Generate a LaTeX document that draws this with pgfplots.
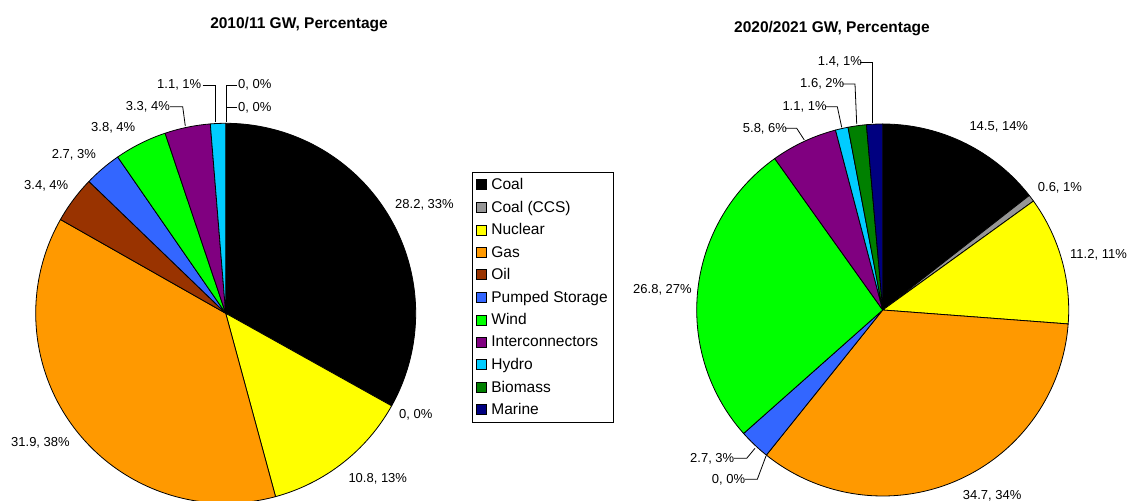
\documentclass[border=0pt]{standalone}
\usepackage{fontspec}
\setmainfont{Liberation Sans}
\usepackage{pgfplots}
\usepackage{pgfplotstable}
\pgfplotsset{compat=1.18}

\definecolor{c0}{HTML}{000000}
\definecolor{c1}{HTML}{969696}
\definecolor{c2}{HTML}{FFFF00}
\definecolor{c3}{HTML}{FF9900}
\definecolor{c4}{HTML}{993300}
\definecolor{c5}{HTML}{3366FF}
\definecolor{c6}{HTML}{00FF00}
\definecolor{c7}{HTML}{800080}
\definecolor{c8}{HTML}{00CCFF}
\definecolor{c9}{HTML}{008000}
\definecolor{c10}{HTML}{000080}

% 2010/11 GW
\pgfplotstableread{
name value
Coal 28.2
CoalCCS 0
Nuclear 10.8
Gas 31.9
Oil 3.4
PumpedStorage 2.7
Wind 3.8
Interconnectors 3.3
Hydro 1.1
Biomass 0
Marine 0
}\tabA

% 2020/2021 GW
\pgfplotstableread{
name value
Coal 14.5
CoalCCS 0.6
Nuclear 11.2
Gas 34.7
Oil 0
PumpedStorage 2.7
Wind 26.8
Interconnectors 5.8
Hydro 1.1
Biomass 1.6
Marine 1.4
}\tabB

\newcommand\labfont{\fontsize{13bp}{15bp}\selectfont}
\newcommand\legfont{\fontsize{15.5bp}{18bp}\selectfont}
\newcommand\titfont{\fontsize{15.5bp}{18bp}\selectfont\bfseries}

% #1 table, #2 cx, #3 cy, #4 r
\newcommand\drawpie[4]{%
  \def\total{0}%
  \pgfplotsforeachungrouped \i in {0,...,10}{%
    \pgfplotstablegetelem{\i}{value}\of{#1}%
    \pgfmathsetmacro\total{\total+\pgfplotsretval}%
  }%
  \def\runsum{0}%
  \pgfplotsforeachungrouped \i in {0,...,10}{%
    \pgfplotstablegetelem{\i}{value}\of{#1}%
    \let\v\pgfplotsretval
    \pgfmathsetmacro\sA{90-360*(\runsum/\total)}%
    \pgfmathsetmacro\runsum{\runsum+\v}%
    \pgfmathsetmacro\sB{90-360*(\runsum/\total)}%
    \ifdim\v pt>0pt
      \edef\tmp{\noexpand\addplot[forget plot, fill=c\i, draw=black, line width=0.8bp, line join=round,
        domain=\sB:\sA, samples=90]
        ({#2+#4*cos(x)},{#3+#4*sin(x)}) -- (axis cs:#2,#3) -- cycle;}%
      \tmp
    \fi
  }%
}

\begin{document}
\begin{tikzpicture}
\begin{axis}[
  scale only axis, width=1133bp, height=501bp,
  xmin=0, xmax=1133, ymin=0, ymax=501,
  hide axis, clip=true,
  legend style={at={(0.4163,0.6573)}, anchor=north west, draw=black, line width=0.8bp,
    fill=white, font=\legfont, inner xsep=3.5bp, inner ysep=4.3bp, row sep=5.9bp,
    cells={anchor=west}},
  legend cell align=left,
  legend image code/.code={\draw[#1, line width=0.8bp] (0bp,-5bp) rectangle (10bp,5bp);
    \path (13bp,0bp);},
]
\drawpie{\tabA}{225.7}{187.7}{190}
\drawpie{\tabB}{882.7}{191}{186}

\addlegendimage{fill=c0, draw=black}
\addlegendentry{Coal}
\addlegendimage{fill=c1, draw=black}
\addlegendentry{Coal (CCS)}
\addlegendimage{fill=c2, draw=black}
\addlegendentry{Nuclear}
\addlegendimage{fill=c3, draw=black}
\addlegendentry{Gas}
\addlegendimage{fill=c4, draw=black}
\addlegendentry{Oil}
\addlegendimage{fill=c5, draw=black}
\addlegendentry{Pumped Storage}
\addlegendimage{fill=c6, draw=black}
\addlegendentry{Wind}
\addlegendimage{fill=c7, draw=black}
\addlegendentry{Interconnectors}
\addlegendimage{fill=c8, draw=black}
\addlegendentry{Hydro}
\addlegendimage{fill=c9, draw=black}
\addlegendentry{Biomass}
\addlegendimage{fill=c10, draw=black}
\addlegendentry{Marine}

% titles
\node[font=\titfont] at (axis cs:299,476.8) {2010/11 GW, Percentage};
\node[font=\titfont] at (axis cs:832,472.8) {2020/2021 GW, Percentage};

% leader lines
\begin{scope}[line width=0.8bp]
\draw (axis cs:202.7,416) -- (axis cs:215,416) -- (axis cs:215,379);
\draw (axis cs:237,416) -- (axis cs:226,416) -- (axis cs:226,379);
\draw (axis cs:237,393.7) -- (axis cs:226,393.7);
\draw (axis cs:170,394.3) -- (axis cs:182.7,394.3) -- (axis cs:185.3,375);
\draw (axis cs:860,438.7) -- (axis cs:872.7,438.7) -- (axis cs:872.7,378.3);
\draw (axis cs:842.3,417) -- (axis cs:855,417) -- (axis cs:856.7,377);
\draw (axis cs:825.7,394.3) -- (axis cs:837.3,394.3) -- (axis cs:841.7,373.7);
\draw (axis cs:785.7,372.7) -- (axis cs:796.7,372.7) -- (axis cs:804.3,361);
\draw (axis cs:734,42.7) -- (axis cs:746.7,42.7) -- (axis cs:755,52.7);
\draw (axis cs:745,21.7) -- (axis cs:757.3,21.7) -- (axis cs:766,45);
\end{scope}

% data labels
\begin{scope}[every node/.style={anchor=west, inner sep=0pt, font=\labfont}]
\node at (axis cs:157,416) {1.1, 1\%};
\node at (axis cs:238,416) {0, 0\%};
\node at (axis cs:238,393.7) {0, 0\%};
\node at (axis cs:125.7,394.3) {3.3, 4\%};
\node at (axis cs:91,373.3) {3.8, 4\%};
\node at (axis cs:51.7,346) {2.7, 3\%};
\node at (axis cs:24,315) {3.4, 4\%};
\node at (axis cs:395,296) {28.2, 33\%};
\node at (axis cs:399,86) {0, 0\%};
\node at (axis cs:348.3,22.7) {10.8, 13\%};
\node at (axis cs:11,58.3) {31.9, 38\%};
\node at (axis cs:817.7,438.7) {1.4, 1\%};
\node at (axis cs:800,417) {1.6, 2\%};
\node at (axis cs:782.3,394.3) {1.1, 1\%};
\node at (axis cs:742.7,372.7) {5.8, 6\%};
\node at (axis cs:969.3,373.7) {14.5, 14\%};
\node at (axis cs:1037.7,313.7) {0.6, 1\%};
\node at (axis cs:1070,246.7) {11.2, 11\%};
\node at (axis cs:633,211) {26.8, 27\%};
\node at (axis cs:690,42.7) {2.7, 3\%};
\node at (axis cs:711.7,21.7) {0, 0\%};
\node at (axis cs:962.7,5) {34.7, 34\%};
\end{scope}
\end{axis}
\pgfresetboundingbox
\path (0,0) rectangle (1133bp,501bp);
\end{tikzpicture}
\end{document}
